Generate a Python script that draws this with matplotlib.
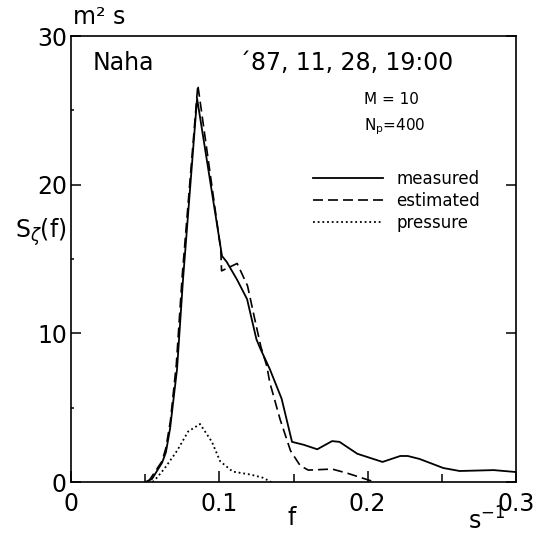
import matplotlib
matplotlib.use("Agg")
import matplotlib.pyplot as plt
from matplotlib.ticker import MultipleLocator, FixedLocator, FixedFormatter

plt.rcParams['font.family'] = ['DejaVu Sans']

# ---- data ----
measured_f = [0.050, 0.0546, 0.0614, 0.064, 0.0668, 0.0715, 0.0755, 0.0850,
              0.1018, 0.105, 0.112, 0.1187, 0.125, 0.1275, 0.134, 0.142, 0.149,
              0.157, 0.166, 0.176, 0.181, 0.193, 0.210, 0.222, 0.227, 0.235,
              0.251, 0.262, 0.285, 0.300]
measured_S = [0.0, 0.2, 1.3, 2.0, 3.6, 7.6, 13.6, 25.8,
              15.2, 14.8, 13.6, 12.3, 9.6, 9.0, 7.6, 5.6, 2.7,
              2.5, 2.2, 2.75, 2.7, 1.9, 1.35, 1.75, 1.75, 1.55,
              0.94, 0.74, 0.8, 0.67]

estimated_f = [0.052, 0.0614, 0.064, 0.067, 0.071, 0.075, 0.0855, 0.101,
               0.1015, 0.112, 0.119, 0.124, 0.128, 0.132, 0.134, 0.141,
               0.148, 0.1545, 0.160, 0.176, 0.186, 0.200, 0.205]
estimated_S = [0.0, 1.4, 2.3, 4.1, 7.9, 13.9, 26.7, 15.6,
               14.2, 14.7, 13.2, 10.9, 9.1, 7.8, 6.7, 4.2,
               2.1, 1.1, 0.8, 0.87, 0.6, 0.15, 0.0]

pressure_f = [0.055, 0.058, 0.063, 0.0715, 0.079, 0.087, 0.095, 0.1005,
              0.109, 0.121, 0.129, 0.135]
pressure_S = [0.0, 0.3, 0.9, 2.1, 3.4, 3.9, 2.7, 1.4,
              0.7, 0.5, 0.3, 0.0]

series_labels = ["measured", "estimated", "pressure"]
x_ticks = [0.0, 0.1, 0.2, 0.3]
x_ticklabels = ["0", "0.1", "0.2", "0.3"]
y_ticks = [0, 10, 20, 30]
y_ticklabels = ["0", "10", "20", "30"]

# ---- figure ----
fig = plt.figure(figsize=(5.37, 5.35), dpi=100)
ax = fig.add_axes([71 / 537, 1 - 482 / 535, 445 / 537, 446 / 535])

ax.plot(measured_f, measured_S, color='black', lw=1.3, label=series_labels[0])
ax.plot(estimated_f, estimated_S, color='black', lw=1.2, dashes=(6, 3),
        label=series_labels[1])
ax.plot(pressure_f, pressure_S, color='black', lw=1.3, dashes=(1, 1.6),
        label=series_labels[2])

ax.set_xlim(0, 0.3)
ax.set_ylim(0, 30)

ax.xaxis.set_major_locator(FixedLocator(x_ticks))
ax.xaxis.set_major_formatter(FixedFormatter(x_ticklabels))
ax.xaxis.set_minor_locator(MultipleLocator(0.05))
ax.yaxis.set_major_locator(FixedLocator(y_ticks))
ax.yaxis.set_major_formatter(FixedFormatter(y_ticklabels))
ax.yaxis.set_minor_locator(MultipleLocator(5))

ax.tick_params(axis='x', which='major', direction='in', length=8, width=1.1,
               pad=7, labelsize=17)
ax.tick_params(axis='x', which='minor', direction='in', length=5.5, width=1.1)
ax.tick_params(axis='y', which='major', direction='in', length=7.5, width=1.1,
               pad=3, labelsize=17, right=True)
ax.tick_params(axis='y', which='minor', direction='in', length=2, width=1.1)

for s in ax.spines.values():
    s.set_linewidth(1.2)

# texts
ax.text(0.049, 0.94, "Naha", transform=ax.transAxes, fontsize=17,
        ha='left', va='center')
ax.text(0.377, 0.94, "\u00b487, 11, 28, 19:00", transform=ax.transAxes,
        fontsize=17, ha='left', va='center')
ax.text(0.658, 0.857, "M = 10", transform=ax.transAxes, fontsize=11,
        ha='left', va='center')
ax.text(0.658, 0.796, r"N$_\mathrm{p}$=400", transform=ax.transAxes,
        fontsize=11, ha='left', va='center')

ax.text(-0.067, 0.56, r"S$_\zeta$(f)", transform=ax.transAxes, fontsize=17,
        ha='center', va='center')
ax.text(0.004, 1.043, "m\u00b2 s", transform=ax.transAxes, fontsize=17,
        ha='left', va='center')
ax.text(0.497, -0.08, "f", transform=ax.transAxes, fontsize=17,
        ha='center', va='center')
ax.text(0.935, -0.088, r"s$^{-1}$", transform=ax.transAxes, fontsize=17,
        ha='center', va='center')

ax.legend(loc='upper left', bbox_to_anchor=(0.544, 0.70), frameon=False,
          fontsize=12, handlelength=4.2, handletextpad=0.8, labelspacing=0.25,
          borderpad=0, borderaxespad=0)

fig.savefig("out.png", dpi=100)
